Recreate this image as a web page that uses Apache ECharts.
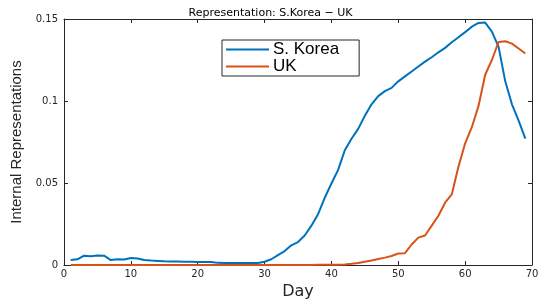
<!DOCTYPE html>
<html>
<head>
<meta charset="utf-8">
<script src="https://cdn.jsdelivr.net/npm/echarts@6/dist/echarts.min.js"></script>
<style>
  html, body { margin: 0; padding: 0; background: #fff; }
  #chart { width: 541px; height: 301px; }
</style>
</head>
<body>
<div id="chart"></div>
<script>
// day 1..69
const days = [];
for (let d = 1; d <= 69; d++) days.push(d);

const korea = [
  0.0030, 0.0035, 0.0057, 0.0053, 0.0058, 0.0057, 0.0030, 0.0035, 0.0033, 0.0043,
  0.0040, 0.0030, 0.0027, 0.0025, 0.0023, 0.0022, 0.0021, 0.0020, 0.0020, 0.0019,
  0.0019, 0.0018, 0.0013, 0.0012, 0.0012, 0.0012, 0.0012, 0.0012, 0.0012, 0.0020,
  0.0035, 0.0060, 0.0085, 0.0120, 0.0140, 0.0180, 0.0240, 0.0310, 0.0410, 0.0497,
  0.0580, 0.0700, 0.0770, 0.0830, 0.0910, 0.0980, 0.1030, 0.1060, 0.1080, 0.1120,
  0.1150, 0.1180, 0.1210, 0.1240, 0.1267, 0.1297, 0.1324, 0.1358, 0.1389, 0.1420,
  0.1453, 0.1476, 0.1478, 0.1423, 0.1330, 0.1120, 0.0980, 0.0880, 0.0770
];

const uk = [
  0, 0, 0, 0, 0, 0, 0, 0, 0, 0,
  0, 0, 0, 0, 0, 0, 0, 0, 0, 0,
  0, 0, 0, 0, 0, 0, 0, 0, 0, 0,
  0, 0, 0, 0, 0, 0, 0, 0.0001, 0.0001, 0.0001,
  0.0002, 0.0003, 0.0007, 0.0012, 0.0020, 0.0028, 0.0037, 0.0045, 0.0055, 0.0070,
  0.0072, 0.0125, 0.0167, 0.0180, 0.0240, 0.0300, 0.0380, 0.0430, 0.0600, 0.0742,
  0.0840, 0.0970, 0.1160, 0.1250, 0.1360, 0.1364, 0.1350, 0.1320, 0.1290
];

const axisColor = '#262626';
const sans = 'Liberation Sans, Arial, sans-serif';
const wide = 'DejaVu Sans, sans-serif';

let chart = echarts.init(document.getElementById('chart'));
let option = {
  animation: false,
  title: {
    text: 'Representation: S.Korea \u2212 UK',
    left: 'center',
    top: 3,
    textStyle: { fontSize: 11, fontWeight: 'normal', color: '#000', fontFamily: wide }
  },
  legend: {
    left: 222,
    top: 40,
    orient: 'vertical',
    icon: 'rect',
    itemWidth: 43,
    itemHeight: 2,
    itemGap: 0,
    padding: [1, 20, 1, 4],
    borderColor: axisColor,
    borderWidth: 1,
    borderRadius: 0,
    backgroundColor: '#fff',
    textStyle: { fontSize: 17, lineHeight: 17, color: '#000', fontFamily: sans, padding: [0, 0, 0, -1] },
    data: ['S. Korea', 'UK']
  },
  grid: { left: 64, right: 9, top: 19, bottom: 36, outerBoundsMode: 'none', containLabel: false },
  xAxis: [
    {
      type: 'value', min: 0, max: 70, interval: 10,
      name: 'Day', nameLocation: 'middle', nameGap: 18,
      nameTextStyle: { fontSize: 16, color: '#262626', fontFamily: wide },
      axisLine: { show: true, lineStyle: { color: axisColor, width: 1 } },
      axisTick: { show: true, inside: true, length: 4, lineStyle: { color: axisColor } },
      axisLabel: { fontSize: 10, color: '#262626', margin: 4, fontFamily: wide },
      splitLine: { show: false }
    },
    {
      type: 'value', min: 0, max: 70, interval: 10, position: 'top',
      axisLine: { show: true, onZero: false, lineStyle: { color: axisColor, width: 1 } },
      axisTick: { show: true, inside: true, length: 4, lineStyle: { color: axisColor } },
      axisLabel: { show: false },
      splitLine: { show: false }
    }
  ],
  yAxis: [
    {
      type: 'value', min: 0, max: 0.15, interval: 0.05,
      name: 'Internal Representations', nameLocation: 'middle', nameGap: 33,
      nameTextStyle: { fontSize: 15, color: '#262626', fontFamily: sans },
      axisLine: { show: true, lineStyle: { color: axisColor, width: 1 } },
      axisTick: { show: true, inside: true, length: 4, lineStyle: { color: axisColor } },
      axisLabel: {
        fontSize: 10, color: '#262626', margin: 6, fontFamily: wide,
        formatter: v => (v === 0 ? '0' : String(+v.toFixed(2)))
      },
      splitLine: { show: false }
    },
    {
      type: 'value', min: 0, max: 0.15, interval: 0.05, position: 'right',
      axisLine: { show: true, onZero: false, lineStyle: { color: axisColor, width: 1 } },
      axisTick: { show: true, inside: true, length: 4, lineStyle: { color: axisColor } },
      axisLabel: { show: false },
      splitLine: { show: false }
    }
  ],
  series: [
    {
      name: 'S. Korea', type: 'line', symbol: 'none',
      lineStyle: { width: 2, color: '#0072BD' }, itemStyle: { color: '#0072BD' },
      data: days.map((d, i) => [d, korea[i]])
    },
    {
      name: 'UK', type: 'line', symbol: 'none',
      lineStyle: { width: 2, color: '#D95319' }, itemStyle: { color: '#D95319' },
      data: days.map((d, i) => [d, uk[i]])
    }
  ]
};
chart.setOption(option);
window.addEventListener('resize', chart.resize);
</script>
</body>
</html>
